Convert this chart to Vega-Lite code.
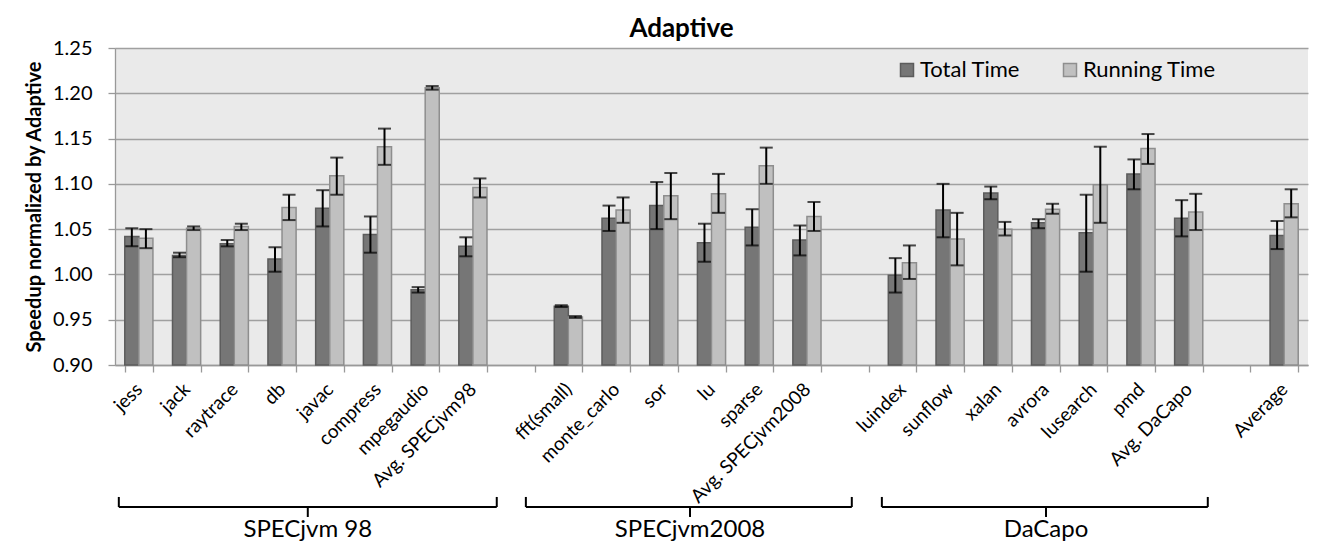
{
  "$schema": "https://vega.github.io/schema/vega-lite/v6.json",
  "width": 1193,
  "height": 317,
  "autosize": {"type": "none"},
  "padding": {"left": 115, "top": 48, "right": 16, "bottom": 189},
  "background": "white",
  "config": {
    "font": "Lato",
    "view": {"fill": "#EAEAEA", "stroke": null}
  },
  "title": {"text": "Adaptive", "fontSize": 26, "fontWeight": "bold", "color": "black", "anchor": "middle", "frame": "group", "dx": -30, "offset": -4},
  "datasets": {
    "bars": [
      {"bench": "jess", "series": "Total Time", "value": 1.042, "lo": 1.031, "hi": 1.051},
      {"bench": "jess", "series": "Running Time", "value": 1.040, "lo": 1.029, "hi": 1.050},
      {"bench": "jack", "series": "Total Time", "value": 1.021, "lo": 1.019, "hi": 1.024},
      {"bench": "jack", "series": "Running Time", "value": 1.051, "lo": 1.049, "hi": 1.053},
      {"bench": "raytrace", "series": "Total Time", "value": 1.034, "lo": 1.031, "hi": 1.038},
      {"bench": "raytrace", "series": "Running Time", "value": 1.053, "lo": 1.049, "hi": 1.056},
      {"bench": "db", "series": "Total Time", "value": 1.017, "lo": 1.003, "hi": 1.030},
      {"bench": "db", "series": "Running Time", "value": 1.074, "lo": 1.060, "hi": 1.088},
      {"bench": "javac", "series": "Total Time", "value": 1.073, "lo": 1.053, "hi": 1.093},
      {"bench": "javac", "series": "Running Time", "value": 1.109, "lo": 1.088, "hi": 1.129},
      {"bench": "compress", "series": "Total Time", "value": 1.044, "lo": 1.024, "hi": 1.064},
      {"bench": "compress", "series": "Running Time", "value": 1.141, "lo": 1.121, "hi": 1.161},
      {"bench": "mpegaudio", "series": "Total Time", "value": 0.983, "lo": 0.980, "hi": 0.986},
      {"bench": "mpegaudio", "series": "Running Time", "value": 1.206, "lo": 1.204, "hi": 1.208},
      {"bench": "Avg. SPECjvm98", "series": "Total Time", "value": 1.031, "lo": 1.020, "hi": 1.041},
      {"bench": "Avg. SPECjvm98", "series": "Running Time", "value": 1.096, "lo": 1.085, "hi": 1.106},
      {"bench": "fft(small)", "series": "Total Time", "value": 0.965, "lo": 0.964, "hi": 0.966},
      {"bench": "fft(small)", "series": "Running Time", "value": 0.953, "lo": 0.952, "hi": 0.954},
      {"bench": "monte_carlo", "series": "Total Time", "value": 1.062, "lo": 1.048, "hi": 1.076},
      {"bench": "monte_carlo", "series": "Running Time", "value": 1.071, "lo": 1.057, "hi": 1.085},
      {"bench": "sor", "series": "Total Time", "value": 1.076, "lo": 1.050, "hi": 1.102},
      {"bench": "sor", "series": "Running Time", "value": 1.087, "lo": 1.061, "hi": 1.112},
      {"bench": "lu", "series": "Total Time", "value": 1.035, "lo": 1.014, "hi": 1.056},
      {"bench": "lu", "series": "Running Time", "value": 1.089, "lo": 1.068, "hi": 1.111},
      {"bench": "sparse", "series": "Total Time", "value": 1.052, "lo": 1.032, "hi": 1.072},
      {"bench": "sparse", "series": "Running Time", "value": 1.120, "lo": 1.100, "hi": 1.140},
      {"bench": "Avg. SPECjvm2008", "series": "Total Time", "value": 1.038, "lo": 1.021, "hi": 1.054},
      {"bench": "Avg. SPECjvm2008", "series": "Running Time", "value": 1.064, "lo": 1.048, "hi": 1.080},
      {"bench": "luindex", "series": "Total Time", "value": 0.999, "lo": 0.980, "hi": 1.018},
      {"bench": "luindex", "series": "Running Time", "value": 1.013, "lo": 0.995, "hi": 1.032},
      {"bench": "sunflow", "series": "Total Time", "value": 1.071, "lo": 1.041, "hi": 1.100},
      {"bench": "sunflow", "series": "Running Time", "value": 1.039, "lo": 1.010, "hi": 1.068},
      {"bench": "xalan", "series": "Total Time", "value": 1.090, "lo": 1.083, "hi": 1.097},
      {"bench": "xalan", "series": "Running Time", "value": 1.050, "lo": 1.043, "hi": 1.058},
      {"bench": "avrora", "series": "Total Time", "value": 1.057, "lo": 1.051, "hi": 1.061},
      {"bench": "avrora", "series": "Running Time", "value": 1.072, "lo": 1.067, "hi": 1.078},
      {"bench": "lusearch", "series": "Total Time", "value": 1.046, "lo": 1.003, "hi": 1.088},
      {"bench": "lusearch", "series": "Running Time", "value": 1.099, "lo": 1.057, "hi": 1.141},
      {"bench": "pmd", "series": "Total Time", "value": 1.111, "lo": 1.094, "hi": 1.127},
      {"bench": "pmd", "series": "Running Time", "value": 1.139, "lo": 1.122, "hi": 1.155},
      {"bench": "Avg. DaCapo", "series": "Total Time", "value": 1.062, "lo": 1.042, "hi": 1.082},
      {"bench": "Avg. DaCapo", "series": "Running Time", "value": 1.069, "lo": 1.049, "hi": 1.089},
      {"bench": "Average", "series": "Total Time", "value": 1.043, "lo": 1.028, "hi": 1.059},
      {"bench": "Average", "series": "Running Time", "value": 1.078, "lo": 1.063, "hi": 1.094}
    ],
    "groups": [
      {"group": "SPECjvm 98", "from": 0.08, "to": 8.0, "mid": 4.04},
      {"group": "SPECjvm2008", "from": 8.61, "to": 15.44, "mid": 12.05},
      {"group": "DaCapo", "from": 16.07, "to": 22.9, "mid": 19.51}
    ]
  },
  "resolve": {"scale": {"x": "independent", "y": "independent", "xOffset": "independent"}, "axis": {"x": "independent", "y": "independent"}},
  "layer": [
    {
      "data": {"name": "bars"},
      "mark": {"type": "bar", "strokeWidth": 1.5},
      "encoding": {
        "x": {
          "field": "bench", "type": "nominal", "sort": null,
          "scale": {
            "domain": ["jess", "jack", "raytrace", "db", "javac", "compress", "mpegaudio", "Avg. SPECjvm98", " ", "fft(small)", "monte_carlo", "sor", "lu", "sparse", "Avg. SPECjvm2008", "  ", "luindex", "sunflow", "xalan", "avrora", "lusearch", "pmd", "Avg. DaCapo", "   ", "Average"],
            "paddingInner": 0.41, "paddingOuter": 0.205
          },
          "axis": {
            "title": null, "labelAngle": -45, "labelAlign": "right", "labelBaseline": "middle",
            "labelFontSize": 19, "labelColor": "black", "labelPadding": 14,
            "tickBand": "extent", "tickSize": 7, "tickColor": "#999999", "tickWidth": 1.3,
            "domainColor": "#999999", "domainWidth": 1.3, "grid": false, "labelOverlap": false
          }
        },
        "xOffset": {"field": "series", "type": "nominal", "scale": {"domain": ["Total Time", "Running Time"], "paddingInner": 0}},
        "y": {
          "field": "value", "type": "quantitative",
          "scale": {"domain": [0.9, 1.25], "nice": false, "zero": false},
          "axis": {
            "title": "Speedup normalized by Adaptive", "titleFontSize": 20, "titleFontWeight": "bold", "titleColor": "black", "titlePadding": 8,
            "values": [0.9, 0.95, 1.0, 1.05, 1.1, 1.15, 1.2, 1.25], "format": ".2f",
            "labelFontSize": 20, "labelColor": "black", "labelPadding": 16,
            "tickSize": 7, "tickColor": "#999999", "tickWidth": 1.3,
            "domainColor": "#999999", "domainWidth": 1.3,
            "grid": true, "gridColor": "#A0A0A0", "gridWidth": 1.3
          }
        },
        "y2": {"datum": 0.9},
        "fill": {
          "field": "series", "type": "nominal",
          "scale": {"domain": ["Total Time", "Running Time"], "range": ["#767676", "#C0C0C0"]},
          "legend": {
            "title": null, "orient": "none", "legendX": 781, "legendY": 11, "direction": "horizontal",
            "symbolType": "square", "symbolSize": 169, "symbolStrokeWidth": 1.5,
            "labelFontSize": 22, "labelColor": "black", "labelOffset": 2, "columnPadding": 38, "padding": 0
          }
        },
        "stroke": {
          "field": "series", "type": "nominal",
          "scale": {"domain": ["Total Time", "Running Time"], "range": ["#5C5C5C", "#8E8E8E"]},
          "legend": {
            "title": null, "orient": "none", "legendX": 781, "legendY": 11, "direction": "horizontal",
            "symbolType": "square", "symbolSize": 169, "symbolStrokeWidth": 1.5,
            "labelFontSize": 22, "labelColor": "black", "labelOffset": 2, "columnPadding": 38, "padding": 0
          }
        }
      }
    },
    {
      "data": {"name": "bars"},
      "mark": {"type": "rule", "color": "black", "strokeWidth": 2},
      "encoding": {
        "x": {"field": "bench", "type": "nominal", "sort": null, "axis": null,
          "scale": {
            "domain": ["jess", "jack", "raytrace", "db", "javac", "compress", "mpegaudio", "Avg. SPECjvm98", " ", "fft(small)", "monte_carlo", "sor", "lu", "sparse", "Avg. SPECjvm2008", "  ", "luindex", "sunflow", "xalan", "avrora", "lusearch", "pmd", "Avg. DaCapo", "   ", "Average"],
            "paddingInner": 0.41, "paddingOuter": 0.205
          }},
        "xOffset": {"field": "series", "type": "nominal", "scale": {"domain": ["Total Time", "Running Time"], "paddingInner": 0}},
        "y": {"field": "lo", "type": "quantitative", "scale": {"domain": [0.9, 1.25], "nice": false, "zero": false}, "axis": null},
        "y2": {"field": "hi"}
      }
    },
    {
      "data": {"name": "bars"},
      "mark": {"type": "tick", "color": "black", "size": 13, "thickness": 2, "orient": "horizontal"},
      "encoding": {
        "x": {"field": "bench", "type": "nominal", "sort": null, "axis": null,
          "scale": {
            "domain": ["jess", "jack", "raytrace", "db", "javac", "compress", "mpegaudio", "Avg. SPECjvm98", " ", "fft(small)", "monte_carlo", "sor", "lu", "sparse", "Avg. SPECjvm2008", "  ", "luindex", "sunflow", "xalan", "avrora", "lusearch", "pmd", "Avg. DaCapo", "   ", "Average"],
            "paddingInner": 0.41, "paddingOuter": 0.205
          }},
        "xOffset": {"field": "series", "type": "nominal", "scale": {"domain": ["Total Time", "Running Time"], "paddingInner": 0}},
        "y": {"field": "lo", "type": "quantitative", "scale": {"domain": [0.9, 1.25], "nice": false, "zero": false}, "axis": null}
      }
    },
    {
      "data": {"name": "bars"},
      "mark": {"type": "tick", "color": "black", "size": 13, "thickness": 2, "orient": "horizontal"},
      "encoding": {
        "x": {"field": "bench", "type": "nominal", "sort": null, "axis": null,
          "scale": {
            "domain": ["jess", "jack", "raytrace", "db", "javac", "compress", "mpegaudio", "Avg. SPECjvm98", " ", "fft(small)", "monte_carlo", "sor", "lu", "sparse", "Avg. SPECjvm2008", "  ", "luindex", "sunflow", "xalan", "avrora", "lusearch", "pmd", "Avg. DaCapo", "   ", "Average"],
            "paddingInner": 0.41, "paddingOuter": 0.205
          }},
        "xOffset": {"field": "series", "type": "nominal", "scale": {"domain": ["Total Time", "Running Time"], "paddingInner": 0}},
        "y": {"field": "hi", "type": "quantitative", "scale": {"domain": [0.9, 1.25], "nice": false, "zero": false}, "axis": null}
      }
    },
    {
      "data": {"name": "groups"},
      "mark": {"type": "rule", "color": "black", "strokeWidth": 2},
      "encoding": {
        "x": {"field": "from", "type": "quantitative", "scale": {"domain": [0, 25], "nice": false, "zero": false}, "axis": null},
        "x2": {"field": "to"},
        "y": {"datum": 0.7432, "type": "quantitative", "scale": {"domain": [0.9, 1.25], "nice": false, "zero": false}, "axis": null}
      }
    },
    {
      "data": {"name": "groups"},
      "mark": {"type": "rule", "color": "black", "strokeWidth": 2},
      "encoding": {
        "x": {"field": "from", "type": "quantitative", "scale": {"domain": [0, 25], "nice": false, "zero": false}, "axis": null},
        "y": {"datum": 0.7432, "type": "quantitative", "scale": {"domain": [0.9, 1.25], "nice": false, "zero": false}, "axis": null},
        "y2": {"datum": 0.7543}
      }
    },
    {
      "data": {"name": "groups"},
      "mark": {"type": "rule", "color": "black", "strokeWidth": 2},
      "encoding": {
        "x": {"field": "to", "type": "quantitative", "scale": {"domain": [0, 25], "nice": false, "zero": false}, "axis": null},
        "y": {"datum": 0.7432, "type": "quantitative", "scale": {"domain": [0.9, 1.25], "nice": false, "zero": false}, "axis": null},
        "y2": {"datum": 0.7543}
      }
    },
    {
      "data": {"name": "groups"},
      "mark": {"type": "rule", "color": "black", "strokeWidth": 2},
      "encoding": {
        "x": {"field": "mid", "type": "quantitative", "scale": {"domain": [0, 25], "nice": false, "zero": false}, "axis": null},
        "y": {"datum": 0.7432, "type": "quantitative", "scale": {"domain": [0.9, 1.25], "nice": false, "zero": false}, "axis": null},
        "y2": {"datum": 0.7322}
      }
    },
    {
      "data": {"name": "groups"},
      "mark": {"type": "text", "fontSize": 24, "color": "black", "align": "center", "baseline": "middle"},
      "encoding": {
        "x": {"field": "mid", "type": "quantitative", "scale": {"domain": [0, 25], "nice": false, "zero": false}, "axis": null},
        "y": {"datum": 0.7178, "type": "quantitative", "scale": {"domain": [0.9, 1.25], "nice": false, "zero": false}, "axis": null},
        "text": {"field": "group", "type": "nominal"}
      }
    }
  ]
}
